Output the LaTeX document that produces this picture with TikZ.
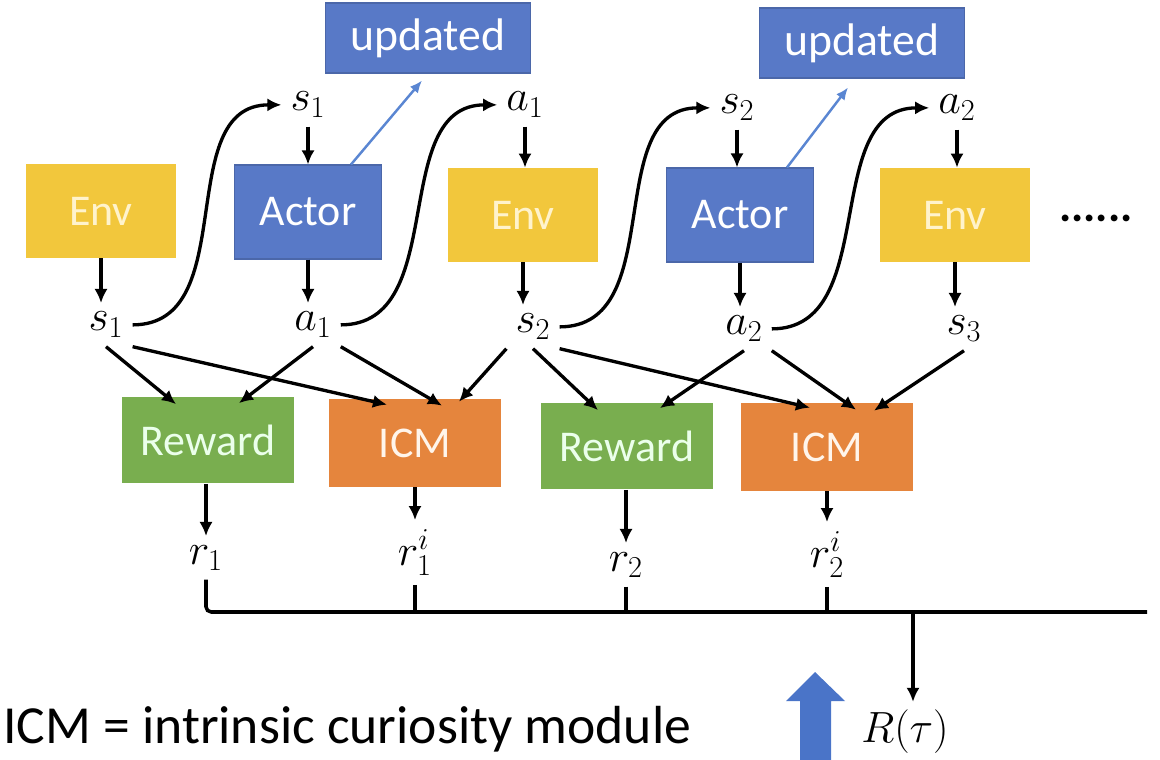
\documentclass[tikz,border=0pt]{standalone}
\usepackage{fontspec}
\setmainfont{Carlito}
\usepackage{xcolor}
\usepackage{tikz}
\usetikzlibrary{arrows.meta, positioning, calc}

\definecolor{envyellow}{HTML}{F2C73C}
\definecolor{envtext}{HTML}{FFF3CC}
\definecolor{actorblue}{HTML}{5879C7}
\definecolor{rewardgreen}{HTML}{79AE4F}
\definecolor{icmorange}{HTML}{E5853D}
\definecolor{updblue}{HTML}{5A86D2}
\definecolor{bigblue}{HTML}{4A74C8}

\begin{document}
\begin{tikzpicture}[
    x=0.02cm, y=-0.02cm,
    envblock/.style={rectangle, fill=envyellow, minimum width=3cm, minimum height=1.88cm, font=\fontsize{25}{28}\selectfont, text=envtext},
    actorblock/.style={rectangle, fill=actorblue, draw=actorblue!85!black, line width=0.6pt, minimum width=2.94cm, minimum height=1.88cm, font=\fontsize{25}{28}\selectfont, text=white},
    updblock/.style={rectangle, fill=actorblue, draw=actorblue!85!black, line width=0.6pt, minimum width=4.1cm, minimum height=1.4cm, font=\fontsize{26}{29}\selectfont, text=white},
    rewardblock/.style={rectangle, fill=rewardgreen, minimum width=3.46cm, minimum height=1.74cm, font=\fontsize{25}{28}\selectfont, text=white!92!green},
    icmblock/.style={rectangle, fill=icmorange, minimum width=3.46cm, minimum height=1.76cm, font=\fontsize{25}{28}\selectfont, text=white!92!orange},
    var/.style={anchor=base, inner sep=5pt, font=\fontsize{27}{30}\selectfont},
    arrow/.style={-{Latex[length=8pt,width=7.5pt]}, line width=1.9pt},
    updarrow/.style={-{Latex[length=7pt,width=6pt]}, line width=1.4pt, draw=updblue},
    busline/.style={line width=2pt}
]

% bounding box of the slide crop
\useasboundingbox (0,0) rectangle (1160,760);

% update targets
\node[updblock] (upd1) at (428,38) {updated};
\node[updblock] (upd2) at (862,43) {updated};

% inputs to actor / env (top row)
\node[var] (s1top) at (308,111) {$s_1$};
\node[var] (a1top) at (525,111) {$a_1$};
\node[var] (s2top) at (737,114) {$s_2$};
\node[var] (a2top) at (957,114) {$a_2$};

% env and actor blocks
\node[envblock] (env1) at (101,211) {Env};
\node[actorblock] (actor1) at (308,212) {Actor};
\node[envblock] (env2) at (523,215) {Env};
\node[actorblock] (actor2) at (740,215) {Actor};
\node[envblock] (env3) at (955,215) {Env};
\node[anchor=base, font=\fontsize{26}{28}\selectfont\bfseries] (more) at (1096,222) {......};

% outputs (middle row)
\node[var] (s1) at (106,331) {$s_1$};
\node[var] (a1) at (313,331) {$a_1$};
\node[var] (s2) at (533,333) {$s_2$};
\node[var] (a2) at (744,335) {$a_2$};
\node[var] (s3) at (964,335) {$s_3$};

% reward and ICM blocks
\node[rewardblock] (rew1) at (208,440) {Reward};
\node[icmblock] (icm1) at (415,443) {ICM};
\node[rewardblock] (rew2) at (627,446) {Reward};
\node[icmblock] (icm2) at (827,447) {ICM};

% rewards
\node[var] (r1) at (206,564) {$r_1$};
\node[var] (ri1) at (415,565) {$r_1^i$};
\node[var] (r2) at (626,571) {$r_2$};
\node[var] (ri2) at (827,567) {$r_2^i$};

\node[var, inner sep=2pt] (rtau) at (905,742) {$R(\tau)$};
\node[anchor=base west, inner sep=0pt, font=\fontsize{30.5}{34}\selectfont] (legend) at (3,743) {ICM = intrinsic curiosity module};

% vertical arrows
\draw[arrow] (env1.south) -- (env1.south |- s1.north);
\draw[arrow] (actor1.south) -- (actor1.south |- a1.north);
\draw[arrow] (env2.south) -- (env2.south |- s2.north);
\draw[arrow] (actor2.south) -- (actor2.south |- a2.north);
\draw[arrow] (env3.south) -- (env3.south |- s3.north);
\draw[arrow] (s1top) -- (s1top |- actor1.north);
\draw[arrow] (a1top) -- (a1top |- env2.north);
\draw[arrow] (s2top) -- (s2top |- actor2.north);
\draw[arrow] (a2top) -- (a2top |- env3.north);

% feed back to next step
\draw[arrow] (s1.east) .. controls +(110,0) and +(-110,0) .. (s1top.west);
\draw[arrow] (a1.east) .. controls +(110,0) and +(-110,0) .. (a1top.west);
\draw[arrow] (s2.east) .. controls +(110,0) and +(-110,0) .. (s2top.west);
\draw[arrow] (a2.east) .. controls +(110,0) and +(-110,0) .. (a2top.west);

% actor updates
\draw[updarrow] ($(actor1.north east)+(-31,0)$) -- ($(upd1.south)+(-6,7)$);
\draw[updarrow] ($(actor2.north east)+(-27,0)$) -- ($(upd2.south)+(-14,9)$);

% into reward / ICM
\draw[arrow] (s1.south) -- ($(rew1.north)+(-32,8)$);
\draw[arrow] (s1.south east) -- ($(icm1.north)+(-28,6)$);
\draw[arrow] (a1.south) -- ($(rew1.north)+(31,7)$);
\draw[arrow] (a1.south east) -- ($(icm1.north)+(27,7)$);
\draw[arrow] (s2.south west) -- ($(icm1.north)+(44,3)$);
\draw[arrow] (s2.south) -- ($(rew2.north)+(-29,8)$);
\draw[arrow] (s2.south east) -- ($(icm2.north)+(-17,5)$);
\draw[arrow] (a2.south) -- ($(rew2.north)+(33,6)$);
\draw[arrow] (a2.south east) -- ($(icm2.north)+(29,7)$);
\draw[arrow] (s3.south) -- ($(icm2.north)+(47,8)$);

\draw[arrow] (rew1.south -| r1) -- (r1.north);
\draw[arrow] (icm1.south -| ri1) -- (ri1.north);
\draw[arrow] (rew2.south -| r2) -- (r2.north);
\draw[arrow] (icm2.south -| ri2) -- (ri2.north);

% sum of rewards
\coordinate (busend) at (1147,612);
\coordinate (tap) at (913,612);
\draw[busline, rounded corners=3pt] (r1.south) |- (busend);
\draw[busline] (ri1.south) -- (ri1.south |- busend);
\draw[busline] (r2.south) -- (r2.south |- busend);
\draw[busline] (ri2.south) -- (ri2.south |- busend);
\draw[arrow, shorten >=2pt] (tap) -- (tap |- rtau.north);

% big update arrow
\fill[bigblue] (800,760) -- (800,701) -- (786,701) -- (815,672) -- (845,701) -- (831,701) -- (831,760) -- cycle;

\end{tikzpicture}
\end{document}
